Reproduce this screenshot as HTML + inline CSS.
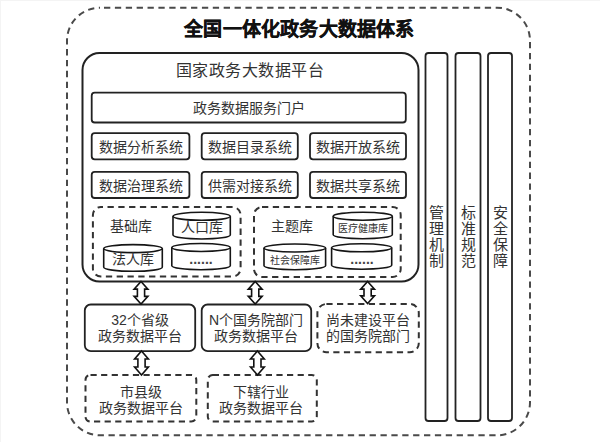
<!DOCTYPE html>
<html lang="zh-CN">
<head>
<meta charset="utf-8">
<style>
html,body{margin:0;padding:0;background:#fff;}
body{width:600px;height:442px;position:relative;overflow:hidden;font-family:"Liberation Sans",sans-serif;color:#333;}
.edge{position:absolute;left:0;top:0;width:600px;height:442px;box-sizing:border-box;border-top:1px solid #f4f4f4;border-left:1px solid #f4f4f4;}
svg{position:absolute;left:0;top:0;}
.t{position:absolute;white-space:nowrap;text-align:center;line-height:1;}
.s14{font-size:14px;}
.v{position:absolute;font-size:15px;line-height:16px;width:16px;text-align:center;white-space:nowrap;}
</style>
</head>
<body>
<div class="edge"></div>
<svg width="600" height="442" viewBox="0 0 600 442">
  <g fill="none" stroke-linejoin="round">
    <!-- outer dashed -->
    <rect x="67" y="7.7" width="463" height="427.6" rx="33" ry="33" stroke="#4a4a4a" stroke-width="2" stroke-dasharray="6.3 4.58" stroke-dashoffset="6.88"/>
    <!-- platform -->
    <rect x="82.5" y="53" width="336" height="228.4" rx="17" ry="17" stroke="#222" stroke-width="2"/>
    <!-- portal -->
    <rect x="91.7" y="92.7" width="314.1" height="29.8" rx="3" ry="3" stroke="#222" stroke-width="1.8"/>
    <!-- systems -->
    <rect x="91.7" y="133.2" width="97.7" height="26.1" rx="3" stroke="#222" stroke-width="1.8"/>
    <rect x="201.7" y="133.2" width="96.1" height="26.1" rx="3" stroke="#222" stroke-width="1.8"/>
    <rect x="310" y="133.2" width="96" height="26.1" rx="3" stroke="#222" stroke-width="1.8"/>
    <rect x="91.7" y="171.8" width="97.7" height="26.2" rx="3" stroke="#222" stroke-width="1.8"/>
    <rect x="201.7" y="171.8" width="96.1" height="26.2" rx="3" stroke="#222" stroke-width="1.8"/>
    <rect x="310" y="171.8" width="96" height="26.2" rx="3" stroke="#222" stroke-width="1.8"/>
    <!-- dashed lib boxes -->
    <rect x="92.9" y="207" width="147.7" height="69.5" rx="8" stroke="#333" stroke-width="2" stroke-dasharray="6.3 4.5" stroke-dashoffset="4.2"/>
    <rect x="254" y="207" width="146.7" height="70" rx="8" stroke="#333" stroke-width="2" stroke-dasharray="6.3 4.5"/>
    <!-- columns -->
    <rect x="425.5" y="53" width="22" height="368" rx="3" stroke="#222" stroke-width="1.8"/>
    <rect x="455.5" y="53" width="25" height="368" rx="3" stroke="#222" stroke-width="1.8"/>
    <rect x="488" y="53" width="24" height="368" rx="3" stroke="#222" stroke-width="1.8"/>
    <!-- row boxes -->
    <rect x="84.8" y="304.5" width="110.4" height="46.7" rx="6" stroke="#222" stroke-width="1.8"/>
    <rect x="201.7" y="304.5" width="109.5" height="46.7" rx="6" stroke="#222" stroke-width="1.8"/>
    <rect x="317.4" y="304" width="101.4" height="48.2" rx="9" stroke="#333" stroke-width="2" stroke-dasharray="6.2 4.4"/>
    <rect x="85.5" y="374.9" width="110.8" height="46.6" rx="5" stroke="#333" stroke-width="2" stroke-dasharray="6.2 4.4"/>
    <rect x="207.8" y="374.9" width="109" height="46.6" rx="5" stroke="#333" stroke-width="2" stroke-dasharray="6.2 4.4"/>
  </g>
  <!-- cylinders -->
  <g fill="#fff" stroke="#151515" stroke-width="1.6">
    <path id="c1" d="M173,216.3 L173,235 A28.65,4 0 0 0 230.3,235 L230.3,216.3"/>
    <ellipse cx="201.65" cy="216.3" rx="28.65" ry="4"/>
    <path d="M103.7,248.6 L103.7,267.3 A29.3,4 0 0 0 162.3,267.3 L162.3,248.6"/>
    <ellipse cx="133" cy="248.6" rx="29.3" ry="4"/>
    <path d="M171.8,247.5 L171.8,265.7 A29.25,4 0 0 0 230.3,265.7 L230.3,247.5"/>
    <ellipse cx="201.05" cy="247.5" rx="29.25" ry="4"/>
    <path d="M333.2,216.2 L333.2,234.7 A29.55,4 0 0 0 392.3,234.7 L392.3,216.2"/>
    <ellipse cx="362.75" cy="216.2" rx="29.55" ry="4"/>
    <path d="M264,248 L264,265.7 A30.8,4 0 0 0 325.6,265.7 L325.6,248"/>
    <ellipse cx="294.8" cy="248" rx="30.8" ry="4"/>
    <path d="M331.6,247.8 L331.6,265.2 A30.05,4 0 0 0 391.7,265.2 L391.7,247.8"/>
    <ellipse cx="361.65" cy="247.8" rx="30.05" ry="4"/>
  </g>
  <!-- arrows -->
  <g fill="#fff" stroke="#111" stroke-width="1.6" stroke-linejoin="miter">
    <path d="M141,281.5 L147.9,289.1 L144.6,289.1 L144.6,296.4 L147.9,296.4 L141,304 L134.1,296.4 L137.4,296.4 L137.4,289.1 L134.1,289.1 Z"/>
    <path d="M255.2,281.5 L262.09999999999997,289.1 L258.8,289.1 L258.8,296.4 L262.09999999999997,296.4 L255.2,304 L248.29999999999998,296.4 L251.6,296.4 L251.6,289.1 L248.29999999999998,289.1 Z"/>
    <path d="M367.6,281.5 L374.5,289.1 L371.20000000000005,289.1 L371.20000000000005,295.9 L374.5,295.9 L367.6,303.5 L360.70000000000005,295.9 L364.0,295.9 L364.0,289.1 L360.70000000000005,289.1 Z"/>
    <path d="M141.5,351 L148.4,359.0 L145.1,359.0 L145.1,367.0 L148.4,367.0 L141.5,375 L134.6,367.0 L137.9,367.0 L137.9,359.0 L134.6,359.0 Z"/>
    <path d="M257.4,351 L264.29999999999995,359.0 L261.0,359.0 L261.0,367.0 L264.29999999999995,367.0 L257.4,375 L250.49999999999997,367.0 L253.79999999999998,367.0 L253.79999999999998,359.0 L250.49999999999997,359.0 Z"/>
  </g>
</svg>

<div class="t" style="left:1px;width:597px;top:20px;font-size:19px;letter-spacing:0.2px;font-weight:bold;color:#111;-webkit-text-stroke:0.35px #111;">全国一体化政务大数据体系</div>
<div class="t" style="left:82px;width:336px;top:63px;font-size:16px;letter-spacing:0.5px;">国家政务大数据平台</div>
<div class="t s14" style="left:92px;width:314px;top:101px;">政务数据服务门户</div>

<div class="t s14" style="left:92px;width:98px;top:140px;">数据分析系统</div>
<div class="t s14" style="left:202px;width:96px;top:140px;">数据目录系统</div>
<div class="t s14" style="left:310px;width:96px;top:140px;">数据开放系统</div>
<div class="t s14" style="left:92px;width:98px;top:179px;">数据治理系统</div>
<div class="t s14" style="left:202px;width:96px;top:179px;">供需对接系统</div>
<div class="t s14" style="left:310px;width:96px;top:179px;">数据共享系统</div>

<div class="t s14" style="left:104px;width:54px;top:219px;">基础库</div>
<div class="t s14" style="left:265px;width:54px;top:219px;">主题库</div>
<div class="t s14" style="left:173px;width:57px;top:220px;">人口库</div>
<div class="t s14" style="left:104px;width:58px;top:252px;">法人库</div>
<div class="t" style="left:172px;width:58px;top:252px;font-size:14px;font-weight:bold;color:#444;">......</div>
<div class="t" style="left:333px;width:59px;top:224px;font-size:10px;">医疗健康库</div>
<div class="t" style="left:264px;width:61px;top:256px;font-size:10px;">社会保障库</div>
<div class="t" style="left:332px;width:60px;top:252px;font-size:14px;font-weight:bold;color:#444;">......</div>

<div class="t s14" style="left:85px;width:110px;top:312px;line-height:16px;">32个省级<br>政务数据平台</div>
<div class="t s14" style="left:201px;width:110px;top:312px;line-height:16px;">N个国务院部门<br>政务数据平台</div>
<div class="t s14" style="left:317px;width:102px;top:312px;line-height:16px;">尚未建设平台<br>的国务院部门</div>
<div class="t s14" style="left:86px;width:110px;top:384px;line-height:16px;">市县级<br>政务数据平台</div>
<div class="t s14" style="left:206.5px;width:109px;top:384px;line-height:16px;">下辖行业<br>政务数据平台</div>

<div class="v" style="left:428.5px;top:205px;">管<br>理<br>机<br>制</div>
<div class="v" style="left:460px;top:205px;">标<br>准<br>规<br>范</div>
<div class="v" style="left:492px;top:205px;">安<br>全<br>保<br>障</div>
</body>
</html>
